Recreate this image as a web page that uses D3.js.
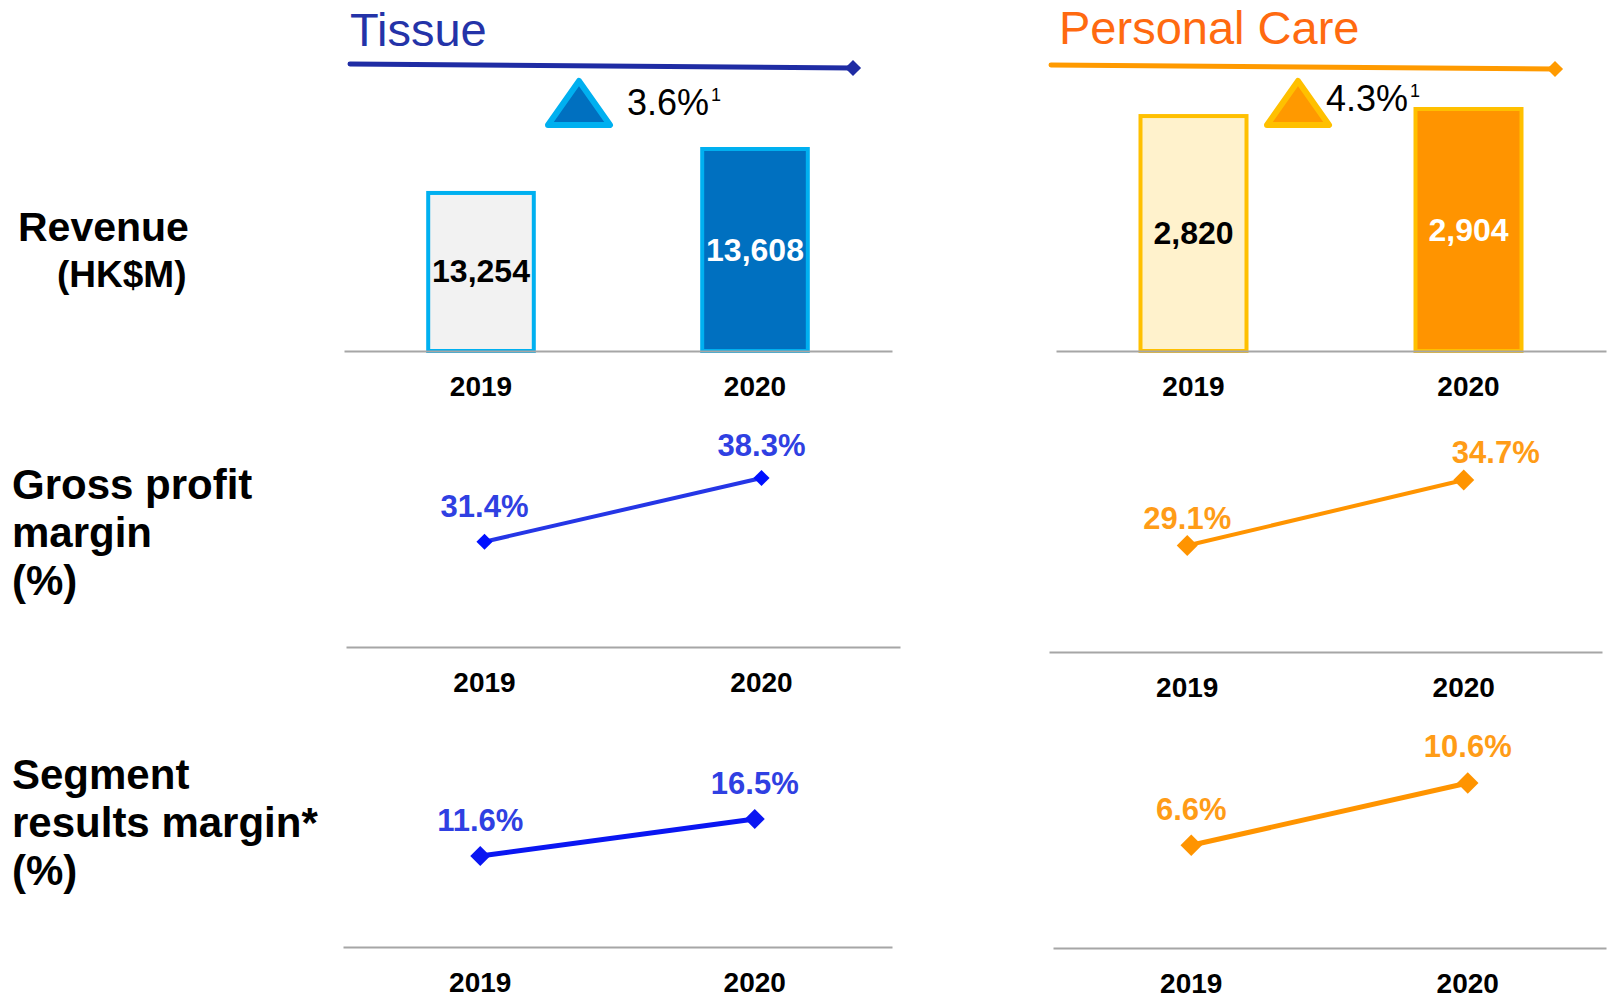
<!DOCTYPE html>
<html>
<head>
<meta charset="utf-8">
<script src="https://cdn.jsdelivr.net/npm/d3@7"></script>
<style>
  body { margin: 0; background: #fff; }
  svg { display: block; font-family: "Liberation Sans", Arial, sans-serif; }
</style>
</head>
<body>
<div id="chart"></div>
<script>
// years under every small chart
var years = ["2019", "2020"];

// the two business segments and their headline growth
var segments = ["Tissue", "Personal Care"];
var growth = ["3.6%", "4.3%"];

// revenue (HK$M)
var tissueRevenue = [13254, 13608];
var careRevenue = [2820, 2904];

// gross profit margin (%)
var tissueGross = [31.4, 38.3];
var careGross = [29.1, 34.7];

// segment results margin (%)
var tissueResult = [11.6, 16.5];
var careResult = [6.6, 10.6];

// row titles on the left
var rowLabels = [
  ["Revenue", "(HK$M)"],
  ["Gross profit", "margin", "(%)"],
  ["Segment", "results margin*", "(%)"]
];

var width = 1612, height = 996;

var svg = d3.select("#chart")
  .append("svg")
    .attr("width", width)
    .attr("height", height);

// left row titles
var rowLabelPos = [
  { x: 18, y: 241, dx: [0, 39], lead: 46, size: [41, 37] },
  { x: 12, y: 499, dx: [0, 0, 0], lead: 48, size: [42, 42, 42] },
  { x: 12, y: 789, dx: [0, 0, 0], lead: 48, size: [42, 42, 42] }
];
rowLabels.forEach(function(lines, i) {
  var p = rowLabelPos[i];
  svg.append("text")
    .attr("x", p.x)
    .attr("y", p.y)
    .attr("font-weight", "bold")
    .attr("fill", "#000")
    .selectAll("tspan")
    .data(lines)
    .join("tspan")
      .attr("x", function(d, j) { return p.x + p.dx[j]; })
      .attr("dy", function(d, j) { return j === 0 ? 0 : p.lead; })
      .attr("font-size", function(d, j) { return p.size[j]; })
      .text(function(d) { return d; });
});

// panel settings (layout and colours only, values come from the arrays above)
var panels = [
  {
    name: segments[0], growth: growth[0],
    revenue: tissueRevenue, gross: tissueGross, result: tissueResult,
    titleColor: "#2433a8", ruleColor: "#1f2ca4",
    title: { x: 350, y: 46 }, rule: [350, 64, 853, 68],
    tri: { x: 579, y: 81, h: 44, w: 31 }, triFill: "#0070c0", triStroke: "#00b0f0",
    growthPos: { x: 627, y: 115 },
    barFill: ["#f2f2f2", "#0070c0"], barStroke: "#00b0f0", barText: ["#000", "#fff"],
    lineColor: ["#2536e6", "#0a16f2"], labelColor: "#2f40e2",
    revRange: [344, 892], revAxis: 351, revDomain: [11965, 13608], revTop: 147,
    grossRange: [346, 900], grossAxis: 647, grossDomain: [20, 38.3], grossTop: 478,
    resultRange: [343, 892], resultAxis: 947, resultDomain: [-0.45, 16.5], resultTop: 819,
    dot: [130, 200],
    grossLabel: [[0, -25], [0, -22]], resultLabel: [[0, -25], [0, -25]]
  },
  {
    name: segments[1], growth: growth[1],
    revenue: careRevenue, gross: careGross, result: careResult,
    titleColor: "#ff6a10", ruleColor: "#ff9a00",
    title: { x: 1059, y: 44 }, rule: [1051, 65, 1555, 69],
    tri: { x: 1298, y: 81, h: 44, w: 31 }, triFill: "#ff9900", triStroke: "#ffc000",
    growthPos: { x: 1326, y: 111 },
    barFill: ["#fff2cc", "#ff9400"], barStroke: "#ffc000", barText: ["#000", "#fff"],
    lineColor: ["#ff9400", "#ff9400"], labelColor: "#ff9c17",
    revRange: [1056, 1606], revAxis: 351, revDomain: [0, 2904], revTop: 107,
    grossRange: [1049, 1602], grossAxis: 652, grossDomain: [20, 34.7], grossTop: 480,
    resultRange: [1053, 1606], resultAxis: 948, resultDomain: [0, 10.6], resultTop: 783,
    dot: [220, 230],
    grossLabel: [[0, -17], [32, -17]], resultLabel: [[0, -25], [0, -26]]
  }
];

// gray baseline with year labels
function drawAxis(g, x, y) {
  var axis = g.append("g")
    .attr("transform", "translate(0," + y + ")")
    .call(d3.axisBottom(x).tickSize(0).tickSizeOuter(0).tickPadding(25));
  axis.select(".domain")
    .attr("stroke", "#a6a6a6")
    .attr("stroke-width", 2);
  axis.selectAll("text")
    .attr("font-family", "Liberation Sans, Arial, sans-serif")
    .attr("font-size", 28)
    .attr("font-weight", "bold")
    .attr("fill", "#000");
}

function bandX(range) {
  return d3.scaleBand()
    .domain(years)
    .range(range)
    .paddingInner(0.6)
    .paddingOuter(0.3);
}

// one margin line with diamonds and labels
function drawLine(g, p, values, range, axisY, domain, top, idx, offsets) {
  var x = bandX(range);
  var y = d3.scaleLinear().domain(domain).range([axisY, top]);
  var data = years.map(function(yr, i) { return { year: yr, value: values[i] }; });
  var cx = function(d) { return x(d.year) + x.bandwidth() / 2; };

  drawAxis(g, x, axisY);

  g.append("path")
    .datum(data)
    .attr("fill", "none")
    .attr("stroke", p.lineColor[idx])
    .attr("stroke-width", idx === 0 ? 4 : 5)
    .attr("d", d3.line()
      .x(cx)
      .y(function(d) { return y(d.value); }));

  g.selectAll(null)
    .data(data)
    .join("path")
      .attr("transform", function(d) { return "translate(" + cx(d) + "," + y(d.value) + ") rotate(45)"; })
      .attr("d", d3.symbol(d3.symbolSquare).size(p.dot[idx]))
      .attr("fill", idx === 0 && p.name === "Tissue" ? "#0010ff" : p.lineColor[idx]);

  g.selectAll(null)
    .data(data)
    .join("text")
      .attr("x", function(d, i) { return cx(d) + offsets[i][0]; })
      .attr("y", function(d, i) { return y(d.value) + offsets[i][1]; })
      .attr("text-anchor", "middle")
      .attr("font-size", 31)
      .attr("font-weight", "bold")
      .attr("fill", p.labelColor)
      .text(function(d) { return d.value.toFixed(1) + "%"; });
}

panels.forEach(function(p) {
  var g = svg.append("g");

  // segment title, rule and growth marker
  g.append("text")
    .attr("x", p.title.x)
    .attr("y", p.title.y)
    .attr("font-size", 47)
    .attr("fill", p.titleColor)
    .text(p.name);

  g.append("line")
    .attr("x1", p.rule[0]).attr("y1", p.rule[1])
    .attr("x2", p.rule[2]).attr("y2", p.rule[3])
    .attr("stroke", p.ruleColor)
    .attr("stroke-width", 5)
    .attr("stroke-linecap", "round");

  g.append("path")
    .attr("transform", "translate(" + p.rule[2] + "," + p.rule[3] + ") rotate(45)")
    .attr("d", d3.symbol(d3.symbolSquare).size(130))
    .attr("fill", p.ruleColor);

  var t = d3.path();
  t.moveTo(p.tri.x, p.tri.y);
  t.lineTo(p.tri.x + p.tri.w, p.tri.y + p.tri.h);
  t.lineTo(p.tri.x - p.tri.w, p.tri.y + p.tri.h);
  t.closePath();
  g.append("path")
    .attr("d", t.toString())
    .attr("fill", p.triFill)
    .attr("stroke", p.triStroke)
    .attr("stroke-width", 6)
    .attr("stroke-linejoin", "round");

  var gt = g.append("text")
    .attr("x", p.growthPos.x)
    .attr("y", p.growthPos.y)
    .attr("font-size", 36)
    .attr("fill", "#000");
  gt.append("tspan").text(p.growth);
  gt.append("tspan")
    .attr("font-size", 18)
    .attr("dy", -14)
    .attr("dx", 2)
    .text("1");

  // revenue bars
  var x = bandX(p.revRange);
  var y = d3.scaleLinear().domain(p.revDomain).range([p.revAxis, p.revTop]);
  var rev = years.map(function(yr, i) { return { year: yr, value: p.revenue[i], i: i }; });

  g.selectAll(null)
    .data(rev)
    .join("rect")
      .attr("x", function(d) { return x(d.year) + 2; })
      .attr("y", function(d) { return y(d.value) + 2; })
      .attr("width", x.bandwidth() - 4)
      .attr("height", function(d) { return p.revAxis - y(d.value) - 2; })
      .attr("fill", function(d) { return p.barFill[d.i]; })
      .attr("stroke", p.barStroke)
      .attr("stroke-width", 4);

  drawAxis(g, x, p.revAxis);

  g.selectAll(null)
    .data(rev)
    .join("text")
      .attr("x", function(d) { return x(d.year) + x.bandwidth() / 2; })
      .attr("y", function(d) { return (y(d.value) + p.revAxis) / 2; })
      .attr("dy", "0.36em")
      .attr("text-anchor", "middle")
      .attr("font-size", 32)
      .attr("font-weight", "bold")
      .attr("fill", function(d) { return p.barText[d.i]; })
      .text(function(d) { return d3.format(",")(d.value); });

  // margin lines
  drawLine(g, p, p.gross, p.grossRange, p.grossAxis, p.grossDomain, p.grossTop, 0, p.grossLabel);
  drawLine(g, p, p.result, p.resultRange, p.resultAxis, p.resultDomain, p.resultTop, 1, p.resultLabel);
});
</script>
</body>
</html>
